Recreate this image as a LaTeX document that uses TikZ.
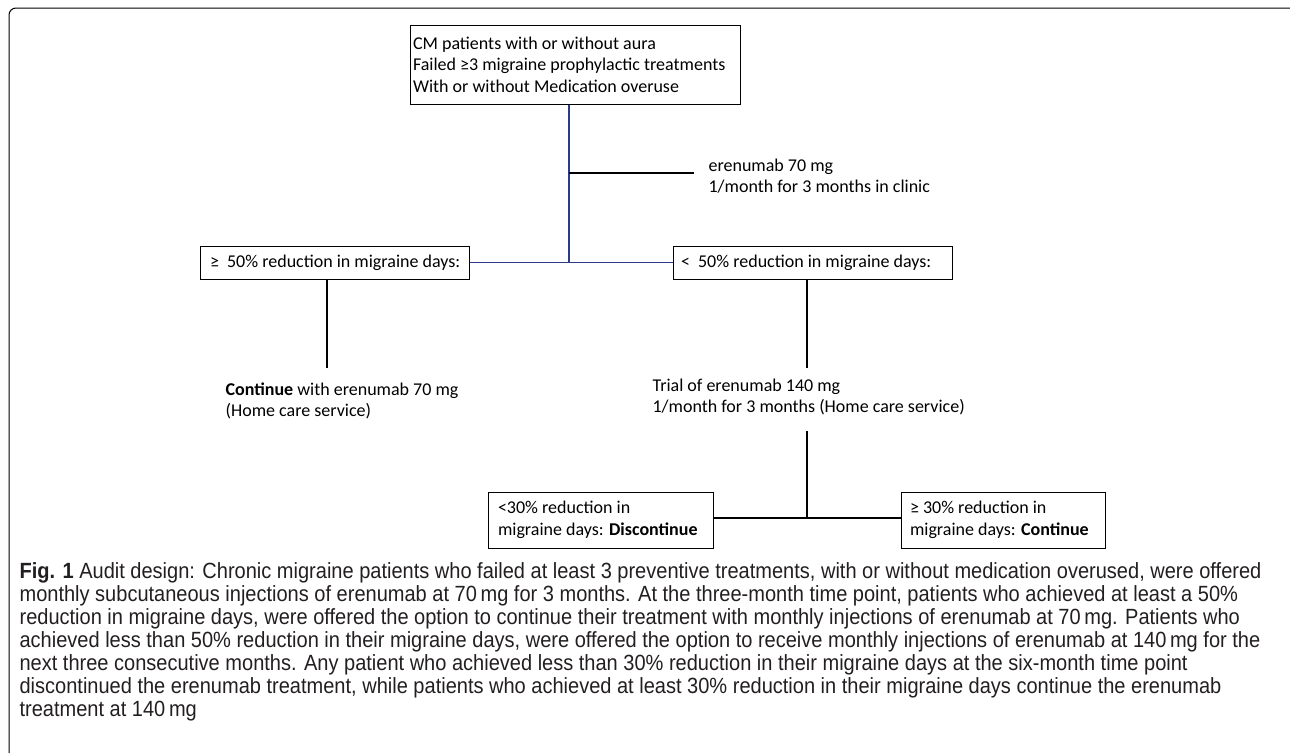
\documentclass[tikz,border=0pt]{standalone}
\usepackage{fontspec}
\setmainfont{Carlito}
\newfontfamily\capfont[FakeStretch=0.91]{Liberation Sans}
\definecolor{navyline}{RGB}{44,58,138}
\definecolor{captext}{RGB}{35,31,32}

\tikzset{every picture/.style={line width=1.2pt}}
\tikzset{
  flowbox/.style={draw, line width=1pt, align=flush left, inner xsep=0pt, inner ysep=0pt,
    font=\fontsize{18}{21.5}\selectfont},
  flowtext/.style={anchor=west, align=left, inner sep=0pt,
    font=\fontsize{18}{21.5}\selectfont},
  tree/.style={line width=1.2pt},
  bluetree/.style={line width=1.2pt, navyline}
}

\begin{document}
\begin{tikzpicture}[x=1pt,y=-1pt]
	\useasboundingbox (0,0) rectangle (1290,753);
	%Khung ngoai
	\draw[line width=1pt, rounded corners=7pt] (1290,8) -| (9,753);
	%Khung 1
	\node[flowbox, minimum width=330, minimum height=79, text width=324] (start) at (575,64.5)
		{CM patients with or without aura\\Failed ≥3 migraine prophylactic treatments\\With or without Medication overuse};
	%Khung 2.1, 2.2
	\node[flowbox, minimum width=269, minimum height=33] (good) at (334.5,262.5)
		{\makebox[249pt][l]{≥\ \ 50\% reduction in migraine days:}};
	\node[flowbox, minimum width=279, minimum height=33] (poor) at (812.5,262.5)
		{\makebox[263pt][l]{<\ \ 50\% reduction in migraine days:}};
	%Khung 3.1, 3.2
	\node[flowbox, minimum width=225, minimum height=56, text width=205] (stop) at (600.5,520)
		{<30\% reduction in\\migraine days: \textbf{Discontinue}};
	\node[flowbox, minimum width=204, minimum height=56, text width=186] (keep) at (1003,520)
		{≥ 30\% reduction in\\migraine days: \textbf{Continue}};
	%Chu
	\node[flowtext] (dose) at (708,176) {erenumab 70 mg\\1/month for 3 months in clinic};
	\node[flowtext] (cont) at (225,401) {\textbf{Continue} with erenumab 70 mg\\(Home care service)};
	\node[flowtext] (trial) at (652,397) {Trial of erenumab 140 mg\\1/month for 3 months (Home care service)};
	%Diem noi
	\coordinate (j1) at (569,263);
	\coordinate (d1) at (569,173);
	\coordinate (d2) at (694,173);
	\coordinate (c1) at (327,368);
	\coordinate (t1) at (807,368);
	\coordinate (t2) at (807,431);
	\coordinate (j2) at (807,518);
	%Duong noi
	\draw[bluetree] (start.south -| j1) -- (j1);
	\draw[bluetree] (good.east) -- (poor.west);
	\draw[tree] (d1) -- (d2);
	\draw[tree] (good.south -| c1) -- (c1);
	\draw[tree] (poor.south -| t1) -- (t1);
	\draw[tree] (t2) -- (j2);
	\draw[tree] (stop.east |- j2) -- (keep.west |- j2);
	%Chu thich
	\node[anchor=north west, align=left, inner sep=0pt, text=captext,
		font=\capfont\fontsize{22}{23}\selectfont] (caption) at (19,562)
		{\textbf{Fig. 1} Audit design: Chronic migraine patients who failed at least 3 preventive treatments, with or without medication overused, were offered\\
		monthly subcutaneous injections of erenumab at 70\,mg for 3 months. At the three-month time point, patients who achieved at least a 50\%\\
		reduction in migraine days, were offered the option to continue their treatment with monthly injections of erenumab at 70\,mg. Patients who\\
		achieved less than 50\% reduction in their migraine days, were offered the option to receive monthly injections of erenumab at 140\,mg for the\\
		next three consecutive months. Any patient who achieved less than 30\% reduction in their migraine days at the six-month time point\\
		discontinued the erenumab treatment, while patients who achieved at least 30\% reduction in their migraine days continue the erenumab\\
		treatment at 140\,mg};
\end{tikzpicture}
\end{document}
